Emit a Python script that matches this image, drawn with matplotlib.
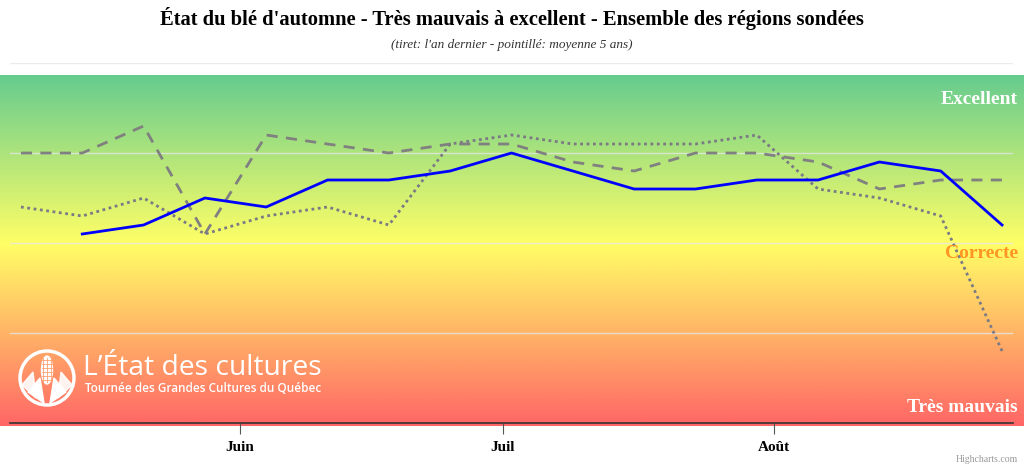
import matplotlib.pyplot as plt
import numpy as np
from matplotlib.colors import LinearSegmentedColormap
from matplotlib.patches import Circle, Ellipse, Polygon
import datetime as dt

# weekly survey dates
dates_prev = ['2019-05-07', '2019-05-14', '2019-05-21', '2019-05-28', '2019-06-04', '2019-06-11',
              '2019-06-18', '2019-06-25', '2019-07-02', '2019-07-09', '2019-07-16', '2019-07-23',
              '2019-07-30', '2019-08-06', '2019-08-13', '2019-08-20', '2019-08-27']
dates_cur = dates_prev[1:]

# 1 = très mauvais ... 5 = excellent
cette_annee = [3.1, 3.2, 3.5, 3.4, 3.7, 3.7, 3.8, 4.0, 3.8, 3.6, 3.6, 3.7, 3.7, 3.9, 3.8, 3.2]
an_dernier = [4.0, 4.0, 4.3, 3.1, 4.2, 4.1, 4.0, 4.1, 4.1, 3.9, 3.8, 4.0, 4.0, 3.9, 3.6, 3.7, 3.7]
moyenne_5ans = [3.4, 3.3, 3.5, 3.1, 3.3, 3.4, 3.2, 4.1, 4.2, 4.1, 4.1, 4.1, 4.2, 3.6, 3.5, 3.3, 1.8]

mois = ['2019-06-01', '2019-07-01', '2019-08-01']
mois_labels = ['Juin', 'Juil', 'Août']

niveaux_labels = ['Excellent', 'Correcte', 'Très mauvais']
niveaux_couleurs = ['white', '#FF9522', 'white']

W, H = 1024, 468
fig = plt.figure(figsize=(W / 100, H / 100), dpi=100)

# fond en degradé
bg = fig.add_axes([0, (H - 426) / H, 1, (426 - 75) / H])
cmap = LinearSegmentedColormap.from_list('etat', [(0, '#66CC8F'), (0.48, '#FFFF66'), (1, '#FF6666')])
grad = np.linspace(0, 1, 256).reshape(-1, 1)
bg.imshow(grad, aspect='auto', cmap=cmap, extent=[0, 1, 0, 1])
bg.set_axis_off()

ax = fig.add_axes([10 / W, (H - 423) / H, 1003 / W, 360 / H])
ax.patch.set_alpha(0)

d_prev = [dt.datetime.strptime(d, '%Y-%m-%d') for d in dates_prev]
d_cur = [dt.datetime.strptime(d, '%Y-%m-%d') for d in dates_cur]

ax.plot(d_prev, moyenne_5ans, color='#7a7a85', lw=2, linestyle=(0, (1, 1.3)))
ax.plot(d_prev, an_dernier, color='#808080', lw=2, linestyle=(0, (4, 3)))
ax.plot(d_cur, cette_annee, color='#0000FF', lw=2)

ax.set_ylim(1, 5)
ax.set_yticks([2, 3, 4, 5])
ax.yaxis.grid(True, color='#e6e6e6', lw=1, alpha=0.8)
ax.set_axisbelow(True)
ax.tick_params(axis='y', left=False, labelleft=False)

ax.set_xlim(dt.datetime(2019, 5, 5, 18), dt.datetime(2019, 8, 28, 6))
d_mois = [dt.datetime.strptime(d, '%Y-%m-%d') for d in mois]
ax.set_xticks(d_mois)
ax.set_xticklabels(mois_labels, fontfamily='Liberation Serif', fontweight='bold', fontsize=11)
ax.tick_params(axis='x', length=8, color='#555555', pad=5)
for s in ['top', 'left', 'right']:
    ax.spines[s].set_visible(False)
ax.spines['bottom'].set_color('#333333')
ax.spines['bottom'].set_linewidth(1.2)

# etiquettes des niveaux
ys = [99, 253, 408]
for y, lab, c in zip(ys, niveaux_labels, niveaux_couleurs):
    fig.text(1018 / W, 1 - y / H, lab, ha='right', va='center', color=c,
             fontfamily='Liberation Serif', fontweight='bold', fontsize=14)

fig.text(0.5, 1 - 19 / H, "État du blé d'automne - Très mauvais à excellent - Ensemble des régions sondées",
         ha='center', va='center', fontfamily='Liberation Serif', fontweight='bold', fontsize=14.8)
fig.text(0.5, 1 - 45 / H, "(tiret: l'an dernier - pointillé: moyenne 5 ans)",
         ha='center', va='center', fontfamily='Liberation Serif', style='italic', fontsize=9.5, color='#333333')

# logo
logo = fig.add_axes([0, 0, 1, 1], zorder=5)
logo.set_xlim(0, W)
logo.set_ylim(H, 0)
logo.set_axis_off()
logo.add_patch(Circle((47, 378), 27, fill=False, ec='white', lw=2.5))
logo.add_patch(Ellipse((47, 370), 11, 28, color='white'))
for xx in (43, 47, 51):
    logo.plot([xx, xx], [358, 382], color='#FFA070', lw=0.6)
for yy in range(360, 384, 4):
    logo.plot([42, 52], [yy, yy], color='#FFA070', lw=0.6)
logo.add_patch(Polygon([[28, 392], [40, 378], [44, 403]], color='white'))
logo.add_patch(Polygon([[66, 392], [54, 378], [50, 403]], color='white'))
logo.add_patch(Polygon([[22, 385], [33, 372], [36, 398]], color='white', alpha=0.9))
logo.add_patch(Polygon([[72, 385], [61, 372], [58, 398]], color='white', alpha=0.9))
logo.text(83, 368, "L’État des cultures", color='white', fontfamily='Open Sans', fontsize=20.3,
          fontweight='medium', ha='left', va='center')
logo.text(85, 389, "Tournée des Grandes Cultures du Québec", color='white', fontfamily='Open Sans',
          fontweight='semibold', fontsize=8.5, ha='left', va='center')

fig.text(1018 / W, 1 - 460 / H, 'Highcharts.com', ha='right', va='center', color='#999999',
         fontfamily='Liberation Serif', fontsize=7)

fig.savefig('out.png', dpi=100)
